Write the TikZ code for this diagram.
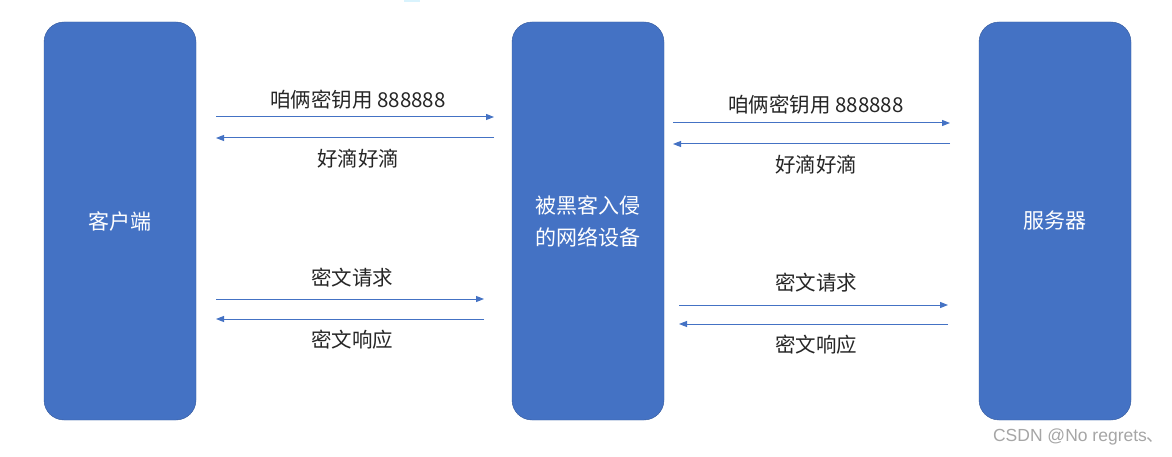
\documentclass[tikz,border=0pt]{standalone}
\usepackage{fontspec}
\setmainfont{Noto Sans CJK SC}
\newfontfamily\wmfont{Liberation Sans}
\newfontfamily\wmcjk{Noto Sans CJK SC}
\usetikzlibrary{arrows.meta}
\definecolor{boxblue}{HTML}{4472C4}
\definecolor{wm}{HTML}{A6A6A6}
\begin{document}
\begin{tikzpicture}[x=1pt,y=-1pt,
  party/.style={fill=boxblue, draw=boxblue!80!black, line width=0.4pt, rounded corners=20pt},
  plabel/.style={text=white, font=\fontsize{21}{32}\selectfont, align=center},
  msg/.style={draw=boxblue, line width=1pt, -{Triangle[length=8pt,width=6pt]}},
  mlabel/.style={font=\fontsize{20.5}{24}\selectfont, text=black!85}
]
\useasboundingbox (0,0) rectangle (1172,457);
\fill[white] (0,0) rectangle (1172,457);
\fill[cyan!15] (404,0) rectangle (420,2);
% boxes
\draw[party] (44,22) rectangle (196,420);
\draw[party] (512,22) rectangle (664,420);
\draw[party] (979,22) rectangle (1131,420);
\node[plabel] (client) at (120,221) {客户端};
\node[plabel] (mitm) at (588,221) {被黑客入侵\\的网络设备};
\node[plabel] (server) at (1055,221) {服务器};
% left group coordinates
\coordinate (l1a) at (216,117); \coordinate (l1b) at (494,117);
\coordinate (l2a) at (494,138); \coordinate (l2b) at (216,138);
\coordinate (l3a) at (216,299); \coordinate (l3b) at (484,299);
\coordinate (l4a) at (484,319); \coordinate (l4b) at (216,319);
% right group coordinates
\coordinate (r1a) at (673,123); \coordinate (r1b) at (950,123);
\coordinate (r2a) at (950,144); \coordinate (r2b) at (673,144);
\coordinate (r3a) at (679,305); \coordinate (r3b) at (948,305);
\coordinate (r4a) at (948,324); \coordinate (r4b) at (679,324);
\draw[msg] (l1a) -- (l1b);
\draw[msg] (l2a) -- (l2b);
\draw[msg] (l3a) -- (l3b);
\draw[msg] (l4a) -- (l4b);
\draw[msg] (r1a) -- (r1b);
\draw[msg] (r2a) -- (r2b);
\draw[msg] (r3a) -- (r3b);
\draw[msg] (r4a) -- (r4b);
% labels
\node[mlabel] (t1) at (358,100) {咱俩密钥用 888888};
\node[mlabel] (t2) at (358,159) {好滴好滴};
\node[mlabel] (t3) at (352,278) {密文请求};
\node[mlabel] (t4) at (352,340) {密文响应};
\node[mlabel] (t5) at (816,105) {咱俩密钥用 888888};
\node[mlabel] (t6) at (816,165) {好滴好滴};
\node[mlabel] (t7) at (816,283) {密文请求};
\node[mlabel] (t8) at (816,345) {密文响应};
\node[text=wm, font=\fontsize{17.5}{20}\selectfont, anchor=east] (wmk) at (1168,437) {\wmfont CSDN @No regrets\wmcjk 、};
\end{tikzpicture}
\end{document}
